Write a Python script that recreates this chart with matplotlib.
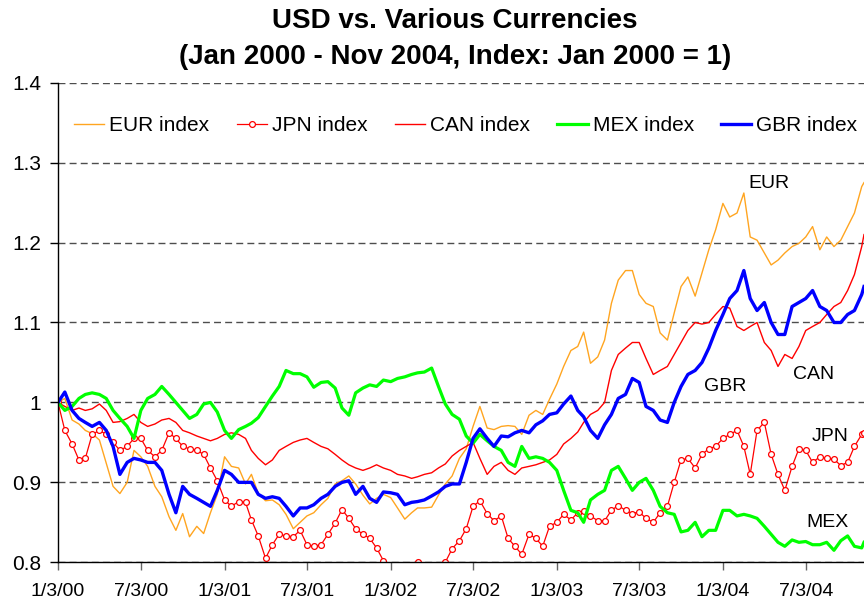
import matplotlib
matplotlib.use("Agg")
import matplotlib.pyplot as plt
import pandas as pd

plt.rcParams['font.family'] = ['Liberation Sans', 'DejaVu Sans']

# half-monthly readings, Jan 2000 .. Nov 2004 (index: Jan 2000 = 1)
eur_index = [
    1.0, 1.005, 0.978, 0.973, 0.965, 0.961, 0.953, 0.924, 0.895, 0.886, 0.9, 0.94,
    0.932, 0.92, 0.895, 0.882, 0.857, 0.84, 0.861, 0.832, 0.845, 0.836, 0.862, 0.885,
    0.932, 0.92, 0.918, 0.898, 0.91, 0.886, 0.877, 0.878, 0.872, 0.86, 0.842, 0.85,
    0.858, 0.862, 0.872, 0.88, 0.898, 0.902, 0.908, 0.898, 0.884, 0.873, 0.88, 0.885,
    0.881, 0.868, 0.854, 0.862, 0.868, 0.868, 0.869, 0.884, 0.898, 0.908, 0.93, 0.942,
    0.97, 0.995, 0.968, 0.966, 0.97, 0.971, 0.97, 0.96, 0.984, 0.99, 0.985, 1.004,
    1.023, 1.045, 1.065, 1.07, 1.088, 1.049, 1.057, 1.078, 1.124, 1.153, 1.165, 1.165,
    1.135, 1.124, 1.12, 1.087, 1.078, 1.112, 1.145, 1.157, 1.133, 1.162, 1.191, 1.216,
    1.249, 1.232, 1.237, 1.262, 1.207, 1.203, 1.187, 1.172, 1.178, 1.187, 1.195,
    1.199, 1.207, 1.22, 1.191, 1.207, 1.195, 1.203, 1.22, 1.237, 1.27, 1.275,
]
jpn_index = [
    1.0, 0.965, 0.948, 0.928, 0.93, 0.96, 0.965, 0.96, 0.95, 0.94, 0.945, 0.955,
    0.955, 0.94, 0.932, 0.94, 0.962, 0.955, 0.945, 0.942, 0.94, 0.935, 0.918, 0.902,
    0.878, 0.87, 0.876, 0.875, 0.853, 0.833, 0.805, 0.822, 0.835, 0.833, 0.832, 0.84,
    0.822, 0.82, 0.822, 0.835, 0.849, 0.866, 0.855, 0.842, 0.835, 0.83, 0.818, 0.802,
    0.79, 0.786, 0.784, 0.79, 0.8, 0.79, 0.786, 0.79, 0.8, 0.817, 0.827, 0.842,
    0.87, 0.877, 0.861, 0.852, 0.858, 0.83, 0.82, 0.81, 0.835, 0.83, 0.82, 0.845,
    0.85, 0.86, 0.853, 0.862, 0.864, 0.858, 0.852, 0.852, 0.865, 0.871, 0.865, 0.861,
    0.863, 0.855, 0.85, 0.862, 0.87, 0.9, 0.928, 0.93, 0.918, 0.935, 0.942, 0.945,
    0.955, 0.96, 0.965, 0.945, 0.91, 0.965, 0.975, 0.935, 0.91, 0.89, 0.92,
    0.942, 0.94, 0.925, 0.932, 0.93, 0.929, 0.921, 0.925, 0.945, 0.96, 0.962,
]
can_index = [
    1.0, 0.995, 0.99, 0.993, 0.99, 0.992, 0.998, 0.99, 0.975, 0.976, 0.98, 0.985,
    0.975, 0.97, 0.973, 0.978, 0.98, 0.975, 0.965, 0.962, 0.958, 0.955, 0.952, 0.955,
    0.96, 0.962, 0.96, 0.955, 0.94, 0.93, 0.922, 0.928, 0.94, 0.945, 0.95, 0.953,
    0.955, 0.95, 0.945, 0.942, 0.935, 0.928, 0.922, 0.918, 0.915, 0.918, 0.922, 0.918,
    0.915, 0.91, 0.908, 0.905, 0.907, 0.91, 0.912, 0.918, 0.923, 0.933, 0.94, 0.945,
    0.95, 0.93, 0.91, 0.92, 0.925, 0.915, 0.91, 0.918, 0.92, 0.922, 0.925, 0.928,
    0.935, 0.948, 0.955, 0.963, 0.975, 0.985, 0.99, 1.0, 1.04, 1.06, 1.068, 1.075,
    1.075, 1.055, 1.035, 1.04, 1.045, 1.06, 1.075, 1.09, 1.1, 1.098, 1.1, 1.11,
    1.12, 1.118, 1.095, 1.09, 1.095, 1.1, 1.075, 1.065, 1.045, 1.06, 1.055,
    1.07, 1.09, 1.095, 1.1, 1.11, 1.12, 1.125, 1.14, 1.16, 1.195, 1.21,
]
mex_index = [
    1.0, 0.99, 0.995, 1.005, 1.01, 1.012, 1.01, 1.005, 0.99, 0.98, 0.97, 0.955,
    0.99, 1.005, 1.01, 1.02, 1.01, 1.0, 0.99, 0.98, 0.985, 0.998, 1.0, 0.988,
    0.965, 0.955, 0.966, 0.97, 0.974, 0.981, 0.995, 1.008, 1.02, 1.04, 1.036, 1.036,
    1.032, 1.019, 1.025, 1.026, 1.018, 0.993, 0.984, 1.012, 1.018, 1.022, 1.02, 1.028,
    1.026, 1.03, 1.032, 1.035, 1.037, 1.038, 1.043, 1.02, 0.998, 0.985, 0.979, 0.958,
    0.949, 0.96, 0.952, 0.945, 0.94, 0.925, 0.92, 0.945, 0.93, 0.932, 0.93, 0.925,
    0.915, 0.89, 0.865, 0.862, 0.85, 0.878, 0.885, 0.89, 0.915, 0.92, 0.905, 0.89,
    0.9, 0.905, 0.89, 0.87, 0.862, 0.86, 0.838, 0.84, 0.85, 0.832, 0.84, 0.84,
    0.865, 0.865, 0.858, 0.86, 0.858, 0.855, 0.845, 0.835, 0.825, 0.82, 0.828,
    0.825, 0.826, 0.822, 0.822, 0.825, 0.815, 0.827, 0.833, 0.82, 0.818, 0.825,
]
gbr_index = [
    1.0, 1.013, 0.99, 0.98, 0.975, 0.97, 0.975, 0.965, 0.945, 0.91, 0.925, 0.93,
    0.928, 0.925, 0.925, 0.915, 0.885, 0.862, 0.895, 0.885, 0.88, 0.875, 0.87, 0.89,
    0.915, 0.91, 0.9, 0.9, 0.9, 0.885, 0.88, 0.882, 0.88, 0.87, 0.858, 0.868,
    0.868, 0.872, 0.88, 0.885, 0.895, 0.9, 0.902, 0.885, 0.895, 0.88, 0.875, 0.888,
    0.887, 0.885, 0.872, 0.875, 0.876, 0.878, 0.883, 0.888, 0.895, 0.898, 0.898, 0.925,
    0.955, 0.967, 0.955, 0.945, 0.958, 0.957, 0.962, 0.965, 0.962, 0.972, 0.977, 0.985,
    0.987, 0.998, 1.008, 0.99, 0.982, 0.965, 0.955, 0.972, 0.985, 1.005, 1.01, 1.03,
    1.025, 0.995, 0.99, 0.978, 0.975, 1.0, 1.02, 1.035, 1.04, 1.05, 1.068, 1.09,
    1.11, 1.13, 1.14, 1.165, 1.13, 1.115, 1.125, 1.1, 1.085, 1.085, 1.12,
    1.125, 1.13, 1.14, 1.12, 1.115, 1.1, 1.1, 1.11, 1.115, 1.135, 1.145,
]

series_names = ["EUR index", "JPN index", "CAN index", "MEX index", "GBR index"]
end_labels = ["EUR", "GBR", "CAN", "JPN", "MEX"]


def half_month_dates(n):
    out = []
    for k in range(n):
        y, mo = divmod(k // 2, 12)
        out.append(pd.Timestamp(2000 + y, mo + 1, 3 if k % 2 == 0 else 18))
    return out


dates = half_month_dates(len(eur_index) - 1) + [pd.Timestamp(2004, 11, 8)]
tick_dates = [pd.Timestamp(2000 + i // 2, 1 + 6 * (i % 2), 3) for i in range(10)]

fig = plt.figure(figsize=(8.64, 6.0), dpi=100)
ax = fig.add_axes([58 / 864, 1 - 562.3 / 600, (864 - 58) / 864, (562.3 - 82.7) / 600])

ax.plot(dates, eur_index, color="#FFA520", lw=1.0, label=series_names[0])
ax.plot(dates, jpn_index, color="#FF0000", lw=0.9, marker="o", markersize=4.2,
        markerfacecolor="white", markeredgecolor="#FF0000", markeredgewidth=0.9,
        label=series_names[1])
ax.plot(dates, can_index, color="#FF0000", lw=1.0, label=series_names[2])
ax.plot(dates, mex_index, color="#00FF00", lw=2.3, label=series_names[3])
ax.plot(dates, gbr_index, color="#0000FF", lw=2.4, label=series_names[4])

ax.set_xlim(pd.Timestamp(2000, 1, 3), pd.Timestamp(2004, 11, 8))
ax.set_ylim(0.8, 1.4)
ax.set_yticks([0.8, 0.9, 1.0, 1.1, 1.2, 1.3, 1.4])
ax.set_yticklabels(["0.8", "0.9", "1", "1.1", "1.2", "1.3", "1.4"], fontsize=15)
ax.set_xticks(tick_dates)
ax.set_xticklabels([f"{d.month}/{d.day}/{d.year % 100:02d}" for d in tick_dates], fontsize=14)
ax.tick_params(axis="y", direction="out", length=6, width=1, pad=6)
ax.tick_params(axis="x", direction="out", length=6, width=1, pad=9, color="#666666")

ax.set_axisbelow(True)
ax.yaxis.grid(True, linestyle=(0, (5, 3)), color="#4d4d4d", lw=1)
for side in ["top", "right"]:
    ax.spines[side].set_visible(False)
for side in ["left", "bottom"]:
    ax.spines[side].set_color("black")
    ax.spines[side].set_linewidth(1.0)

ax.legend(loc="center", bbox_to_anchor=(0.506, 0.911), ncol=5, frameon=False,
          fontsize=15, handlelength=1.45, handletextpad=0.25, columnspacing=1.3)

# series labels at the right
label_pos = [(0.856, 0.789), (0.801, 0.367), (0.912, 0.391), (0.935, 0.262), (0.928, 0.084)]
for txt, (lx, ly) in zip(end_labels, label_pos):
    ax.text(lx, ly, txt, transform=ax.transAxes, fontsize=14, ha="left", va="center")

fig.text(455 / 864, 1 - 39 / 600,
         "USD vs. Various Currencies\n(Jan 2000 - Nov 2004, Index: Jan 2000 = 1)",
         ha="center", va="center", fontsize=20, fontweight="bold", linespacing=1.5)

fig.savefig("out.png", dpi=100)
